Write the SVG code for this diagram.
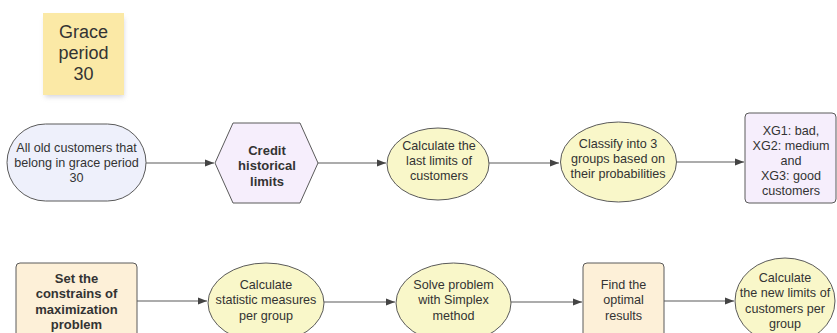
<svg xmlns="http://www.w3.org/2000/svg" width="837" height="333" viewBox="0 0 837 333">
<defs>
<style>
.t{font-family:"Liberation Sans",Arial,sans-serif;font-size:12.6px;fill:#333;text-anchor:middle}
.b{font-weight:bold;font-size:13px}
.s{stroke:#5a5a5a;stroke-width:1}
.yl{fill:#f9f7c9}
.pc{fill:#fdf0d8}
.pu{fill:#f6eefc}
.c{stroke:#5a5a5a;stroke-width:1.2;fill:none;marker-end:url(#ah)}
</style>
<marker id="ah" markerWidth="10" markerHeight="8" refX="9" refY="4" orient="auto" markerUnits="userSpaceOnUse">
<path d="M0,0.5 L9,4 L0,7.5 Z" fill="#444"/>
</marker>
<filter id="sh" x="-20%" y="-20%" width="140%" height="150%">
<feGaussianBlur stdDeviation="2.5"/>
</filter>
</defs>
<rect width="837" height="333" fill="#fff"/>

<g id="sticky">
<rect x="45" y="18" width="79" height="79" fill="#b8b8c8" opacity="0.6" filter="url(#sh)"/>
<rect x="43" y="13" width="81" height="82" fill="#fbe9a6"/>
<text class="t" x="83.5" y="38" style="font-size:18px">Grace</text>
<text class="t" x="83.5" y="59" style="font-size:18px">period</text>
<text class="t" x="83.5" y="80" style="font-size:18px">30</text>
</g>

<g id="n1">
<rect class="s" x="7" y="124" width="139" height="77" rx="38.5" fill="#eef0fb"/>
<text class="t" x="76.5" y="151.5">All old customers that</text>
<text class="t" x="76.5" y="166.5">belong in grace period</text>
<text class="t" x="76.5" y="181.5">30</text>
</g>

<g id="n2">
<polygon class="s pu" points="215,163 233,123 300,123 318,163 300,203 233,203"/>
<text class="t b" x="267" y="154.5">Credit</text>
<text class="t b" x="267" y="170">historical</text>
<text class="t b" x="267" y="185.5">limits</text>
</g>

<g id="n3">
<ellipse class="s yl" cx="438" cy="164" rx="51" ry="36"/>
<text class="t" x="439" y="149.5">Calculate the</text>
<text class="t" x="439" y="164.5">last limits of</text>
<text class="t" x="439" y="179.5">customers</text>
</g>

<g id="n4">
<ellipse class="s yl" cx="618.5" cy="162" rx="58" ry="40"/>
<text class="t" x="618" y="147.5">Classify into 3</text>
<text class="t" x="618" y="162.5">groups based on</text>
<text class="t" x="618" y="177.5">their probabilities</text>
</g>

<g id="n5">
<rect class="s pu" x="745" y="113" width="91" height="90" rx="4"/>
<text class="t" x="791" y="134.5">XG1: bad,</text>
<text class="t" x="791" y="149.5">XG2: medium</text>
<text class="t" x="791" y="164.5">and</text>
<text class="t" x="791" y="179.5">XG3: good</text>
<text class="t" x="791" y="194.5">customers</text>
</g>

<g id="n6">
<rect class="s pc" x="16" y="263" width="121" height="90" rx="4"/>
<text class="t b" x="76.5" y="282.5">Set the</text>
<text class="t b" x="76.5" y="298">constrains of</text>
<text class="t b" x="76.5" y="313.5">maximization</text>
<text class="t b" x="76.5" y="329">problem</text>
</g>

<g id="n7">
<ellipse class="s yl" cx="266" cy="303" rx="58" ry="40"/>
<text class="t" x="266" y="288.5">Calculate</text>
<text class="t" x="266" y="304">statistic measures</text>
<text class="t" x="266" y="319.5">per group</text>
</g>

<g id="n8">
<ellipse class="s yl" cx="453.5" cy="303" rx="57.5" ry="40"/>
<text class="t" x="453.5" y="288.5">Solve problem</text>
<text class="t" x="453.5" y="304">with Simplex</text>
<text class="t" x="453.5" y="319.5">method</text>
</g>

<g id="n9">
<rect class="s pc" x="583" y="263" width="81" height="90" rx="4"/>
<text class="t" x="623.5" y="288.5">Find the</text>
<text class="t" x="623.5" y="304">optimal</text>
<text class="t" x="623.5" y="319.5">results</text>
</g>

<g id="n10">
<ellipse class="s yl" cx="785" cy="301" rx="50" ry="43"/>
<text class="t" x="785" y="281.5">Calculate</text>
<text class="t" x="785" y="297">the new limits of</text>
<text class="t" x="785" y="312.5">customers per</text>
<text class="t" x="785" y="328">group</text>
</g>

<g id="connectors">
<path class="c" d="M146,163 H214"/>
<path class="c" d="M318,163 H386"/>
<path class="c" d="M489,163 H559"/>
<path class="c" d="M677,162 H744"/>
<path class="c" d="M137,301 H207"/>
<path class="c" d="M324,302 H395"/>
<path class="c" d="M511,302 H582"/>
<path class="c" d="M664,301 H734"/>
</g>
</svg>
